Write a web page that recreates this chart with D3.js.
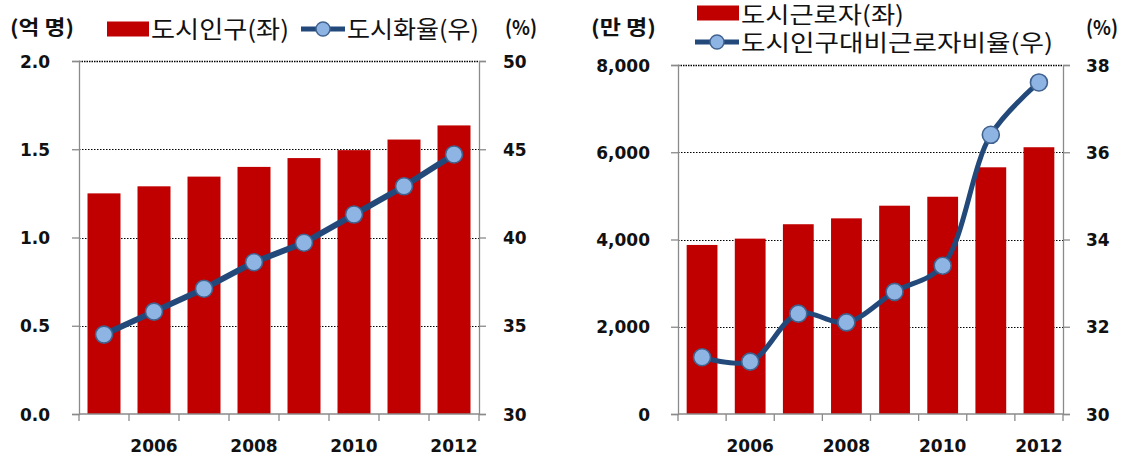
<!DOCTYPE html>
<html>
<head>
<meta charset="utf-8">
<script src="https://cdn.jsdelivr.net/npm/d3@7"></script>
<style>
  html, body { margin: 0; padding: 0; background: #fff; }
  svg { display: block; }
  .tick text { font-family: "DejaVu Sans", sans-serif; font-weight: bold; font-size: 17px; fill: #111; }
  .leg { font-family: "Noto Sans CJK KR", sans-serif; font-size: 24px; fill: #111; }
  .leg2 { font-family: "Noto Sans CJK KR", sans-serif; font-size: 23px; fill: #111; }
  .unit { font-family: "Noto Sans CJK KR", sans-serif; font-size: 20px; font-weight: bold; fill: #111; }
</style>
</head>
<body>
<svg id="chart" width="1128" height="457"></svg>
<script>
// ---- data ----
const years = [2005, 2006, 2007, 2008, 2009, 2010, 2011, 2012];
const xTickLabels = [2006, 2008, 2010, 2012];

// left panel
const urbanPop = [1.25, 1.29, 1.345, 1.40, 1.45, 1.495, 1.555, 1.635];      // 억 명
const urbanRate = [34.5, 35.8, 37.1, 38.6, 39.7, 41.3, 42.9, 44.7];         // %
const leftTicksL = [0, 0.5, 1.0, 1.5, 2.0];
const leftTicksR = [30, 35, 40, 45, 50];

// right panel
const urbanWorkers = [3875, 4020, 4350, 4485, 4775, 4980, 5655, 6115];      // 만 명
const workerRatio = [31.3, 31.2, 32.3, 32.1, 32.8, 33.4, 36.4, 37.6];       // %
const rightTicksL = [0, 2000, 4000, 6000, 8000];
const rightTicksR = [30, 32, 34, 36, 38];

const BAR = "#c00000", LINE = "#22497a", MFILL = "#8eb4e3", MSTROKE = "#41628f";
const svg = d3.select("#chart");

function panel(cfg) {
  const g = svg.append("g");
  const x = d3.scaleBand().domain(years).range([cfg.x0, cfg.x1])
    .paddingInner(cfg.pad).paddingOuter(cfg.pad / 2);
  const yL = d3.scaleLinear().domain([cfg.ticksL[0], cfg.ticksL[cfg.ticksL.length - 1]]).range([cfg.yB, cfg.yT]);
  const yR = d3.scaleLinear().domain([cfg.ticksR[0], cfg.ticksR[cfg.ticksR.length - 1]]).range([cfg.yB, cfg.yT]);

  // gridlines (dotted)
  g.append("g").selectAll("line").data(cfg.ticksL.slice(1)).join("line")
    .attr("x1", cfg.x0).attr("x2", cfg.x1)
    .attr("y1", d => Math.round(yL(d)) + 0.5).attr("y2", d => Math.round(yL(d)) + 0.5)
    .attr("stroke", "#000").attr("stroke-width", (d, i, a) => i === a.length - 1 ? 1.6 : 1)
    .attr("stroke-dasharray", (d, i, a) => i === a.length - 1 ? "1.5,1" : "1.5,1.5");

  // bars
  g.append("g").selectAll("rect").data(cfg.bars).join("rect")
    .attr("x", (d, i) => x(years[i])).attr("width", x.bandwidth())
    .attr("y", d => yL(d)).attr("height", d => yL(cfg.ticksL[0]) - yL(d))
    .attr("fill", BAR);

  // left axis
  const axL = g.append("g").attr("transform", `translate(${cfg.x0},0)`)
    .call(d3.axisLeft(yL).tickValues(cfg.ticksL).tickSize(7).tickPadding(cfg.padL).tickFormat(cfg.fmtL));
  // right axis
  const axR = g.append("g").attr("transform", `translate(${cfg.x1},0)`)
    .call(d3.axisRight(yR).tickValues(cfg.ticksR).tickSize(7).tickPadding(cfg.padR).tickFormat(d3.format("d")));
  [axL, axR].forEach(a => {
    a.select(".domain").attr("stroke", "#8a8a8a").attr("stroke-width", 1.3);
    a.selectAll(".tick line").attr("stroke", "#8a8a8a").attr("stroke-width", 1.3);
    a.selectAll(".tick text").attr("dy", "0.36em");
  });

  // bottom axis: labels at band centres, ticks at band boundaries
  const axB = g.append("g").attr("transform", `translate(0,${cfg.yB})`)
    .call(d3.axisBottom(x).tickValues(xTickLabels).tickSize(0).tickPadding(26));
  axB.select(".domain").remove();
  g.append("line").attr("x1", cfg.x0).attr("x2", cfg.x1).attr("y1", cfg.yB).attr("y2", cfg.yB)
    .attr("stroke", "#8a8a8a").attr("stroke-width", 1.3);
  g.append("g").selectAll("line").data(d3.range(years.length + 1)).join("line")
    .attr("x1", i => cfg.x0 + i * x.step()).attr("x2", i => cfg.x0 + i * x.step())
    .attr("y1", cfg.yB).attr("y2", cfg.yB + 7)
    .attr("stroke", "#8a8a8a").attr("stroke-width", 1.3);

  // line + markers
  const line = d3.line().x((d, i) => x(years[i]) + x.bandwidth() / 2).y(d => yR(d)).curve(cfg.curve);
  g.append("path").datum(cfg.line).attr("d", line)
    .attr("fill", "none").attr("stroke", LINE).attr("stroke-width", cfg.lw)
    .attr("stroke-linejoin", "round").attr("stroke-linecap", "round");
  g.append("g").selectAll("circle").data(cfg.line).join("circle")
    .attr("cx", (d, i) => x(years[i]) + x.bandwidth() / 2).attr("cy", d => yR(d))
    .attr("r", 8.5).attr("fill", MFILL).attr("stroke", MSTROKE).attr("stroke-width", 1.6);
}

panel({ x0: 79, x1: 479, yT: 61, yB: 414, pad: 0.34, bars: urbanPop, line: urbanRate,
  ticksL: leftTicksL, ticksR: leftTicksR, fmtL: d3.format(".1f"), padL: 22, padR: 17,
  curve: d3.curveLinear, lw: 6 });
panel({ x0: 678, x1: 1063, yT: 65, yB: 414, pad: 0.36, bars: urbanWorkers, line: workerRatio,
  ticksL: rightTicksL, ticksR: rightTicksR, fmtL: d3.format(",d"), padL: 21, padR: 16,
  curve: d3.curveCatmullRom.alpha(0.5), lw: 5 });

// ---- legends & unit labels ----
function legRect(xp, yc) {
  svg.append("rect").attr("x", xp).attr("y", yc - 7.5).attr("width", 42).attr("height", 15).attr("fill", BAR);
}
function legLine(xp, yc) {
  svg.append("line").attr("x1", xp).attr("x2", xp + 44).attr("y1", yc).attr("y2", yc)
    .attr("stroke", LINE).attr("stroke-width", 5);
  svg.append("circle").attr("cx", xp + 22).attr("cy", yc).attr("r", 7)
    .attr("fill", MFILL).attr("stroke", MSTROKE).attr("stroke-width", 1.4);
}
function text(cls, xp, yb, s, len) {
  const t = svg.append("text").attr("class", cls).attr("x", xp).attr("y", yb).text(s);
  if (len) t.attr("textLength", len).attr("lengthAdjust", "spacingAndGlyphs");
}
// left panel
text("unit", 10, 35, "(억 명)", 64);
legRect(107, 29);
text("leg", 151, 38, "도시인구(좌)", 138);
legLine(301, 29);
text("leg", 347, 38, "도시화율(우)", 132);
text("unit", 505, 35, "(%)", 32);
// right panel
text("unit", 591, 35, "(만 명)", 65);
legRect(697, 13);
text("leg2", 741, 23, "도시근로자(좌)", 163);
legLine(695, 42);
text("leg2", 741, 51, "도시인구대비근로자비율(우)", 312);
text("unit", 1086, 35, "(%)", 32);
</script>
</body>
</html>
